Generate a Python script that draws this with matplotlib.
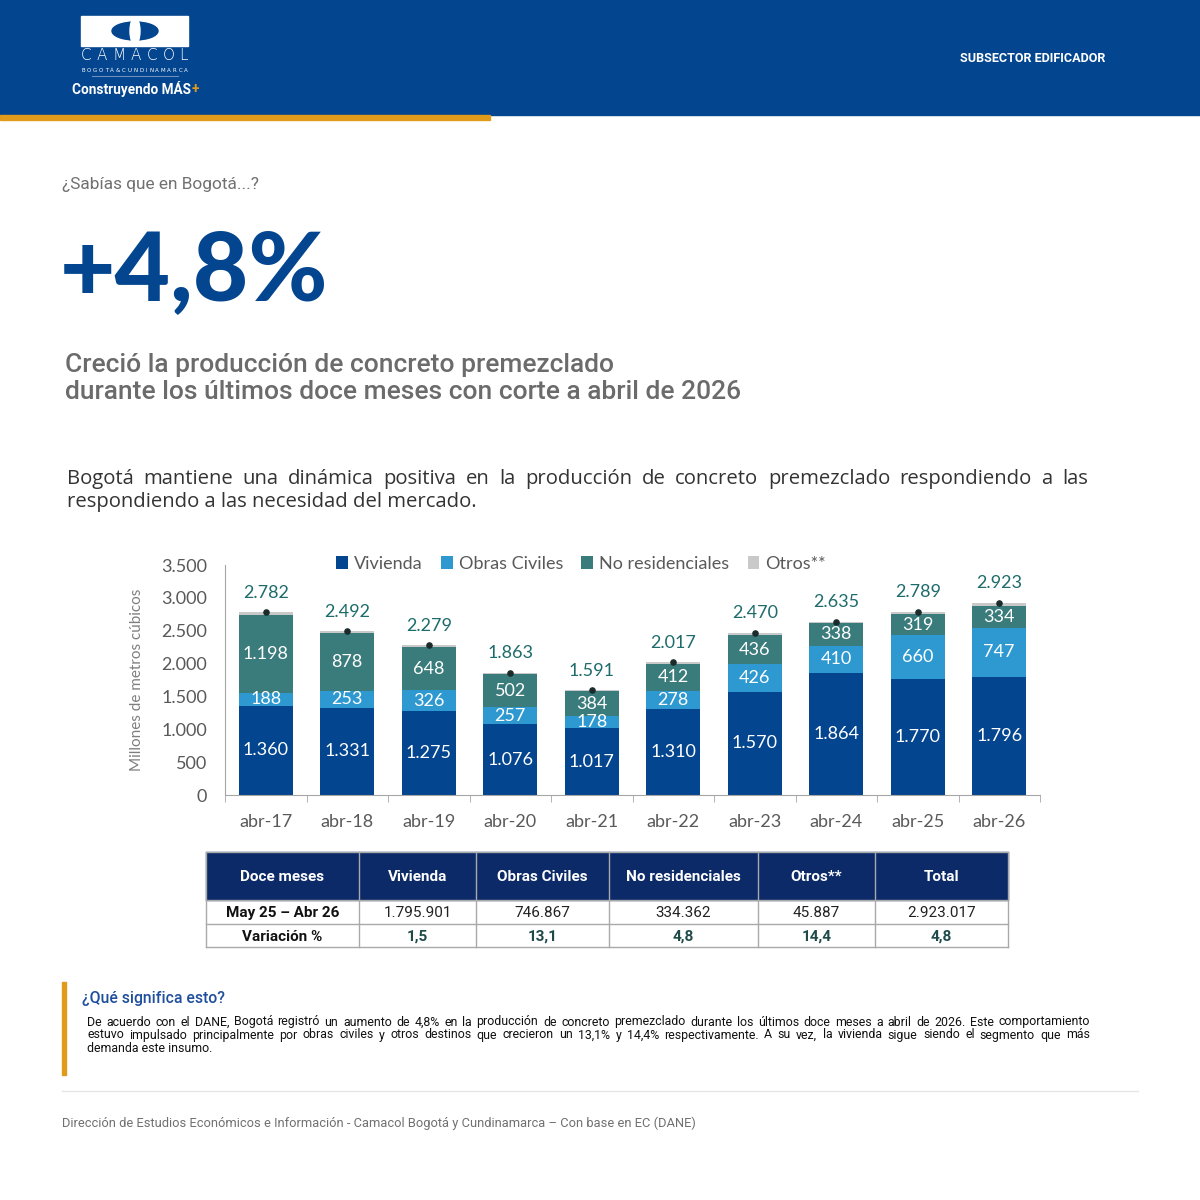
import matplotlib
matplotlib.use("Agg")
import matplotlib.pyplot as plt
import numpy as np
from matplotlib.patches import Rectangle, Ellipse

# Datos del gráfico (miles de m3)
periodos = ["abr-17", "abr-18", "abr-19", "abr-20", "abr-21",
            "abr-22", "abr-23", "abr-24", "abr-25", "abr-26"]
vivienda = [1360, 1331, 1275, 1076, 1017, 1310, 1570, 1864, 1770, 1796]
obras_civiles = [188, 253, 326, 257, 178, 278, 426, 410, 660, 747]
no_residenciales = [1198, 878, 648, 502, 384, 412, 436, 338, 319, 334]
otros = [36, 30, 30, 28, 12, 17, 38, 23, 40, 46]
totales = [2782, 2492, 2279, 1863, 1591, 2017, 2470, 2635, 2789, 2923]

# Tabla
tabla_cols = ["Doce meses", "Vivienda", "Obras Civiles", "No residenciales", "Otros**", "Total"]
tabla_valores = ["May 25 – Abr 26", "1.795.901", "746.867", "334.362", "45.887", "2.923.017"]
tabla_variacion = ["Variación %", "1,5", "13,1", "4,8", "14,4", "4,8"]

AZUL = "#03458F"
AZUL_CLARO = "#2E99D0"
VERDE = "#3A7B7B"
GRIS = "#C9C9C9"
TEAL = "#1E6B6B"
GRIS_TXT = "#595959"


def miles(v):
    return f"{v:,}".replace(",", ".")


fig = plt.figure(figsize=(12, 12), dpi=100)
bg = fig.add_axes([0, 0, 1, 1])
bg.set_xlim(0, 1200)
bg.set_ylim(1200, 0)
bg.axis("off")
r = fig.canvas.get_renderer()


def fit(x, y, s, ancho, size=12, **kw):
    t = bg.text(x, y, s, fontsize=size, **kw)
    w = t.get_window_extent(r).width
    t.set_fontsize(size * ancho / w)
    return t


def justificar(y, piezas, x0, x1, **kw):
    ts = [bg.text(0, y, p, **kw) for p in piezas]
    anchos = [t.get_window_extent(r).width for t in ts]
    hueco = (x1 - x0 - sum(anchos)) / (len(piezas) - 1)
    x = x0
    for t, w in zip(ts, anchos):
        t.set_x(x)
        x += w + hueco


# Encabezado
bg.add_patch(Rectangle((0, 0), 1200, 115, color=AZUL, zorder=0))
bg.add_patch(Rectangle((0, 115), 490, 5, color="#E09B1B", zorder=0))
bg.add_patch(Rectangle((81, 16), 107, 30, color="white", zorder=1))
bg.add_patch(Ellipse((135, 31), 46, 18, color=AZUL, zorder=2))
bg.add_patch(Ellipse((135, 31), 10, 27, color="white", zorder=3))
justificar(56, list("CAMACOL"), 81, 188, family="DejaVu Sans", color="white",
           va="center", fontsize=11, fontweight="light")
justificar(70, [c for c in "BOGOTÁ & CUNDINAMARCA" if c != " "], 81, 188,
           family="DejaVu Sans", color="white", va="center", fontsize=4)
bg.plot([92, 178], [76, 76], color="#6d8fc0", lw=0.8)
t = fit(72, 89, "Construyendo MÁS", 118, family="Roboto", color="white",
        va="center", fontweight="bold")
bg.text(72 + t.get_window_extent(r).width + 1, 89, "+", color="#E09B1B",
        fontsize=t.get_fontsize(), family="Roboto", fontweight="bold", va="center")
fit(960, 58, "SUBSECTOR EDIFICADOR", 146, family="Roboto", color="white",
    va="center", fontweight="bold")

# Titulares
fit(62, 184, "¿Sabías que en Bogotá...?", 197, family="Roboto", color="#707070",
    va="center")
fit(60, 273, "+4,8%", 268, family="Lato", fontweight="black", color=AZUL,
    va="center")
t1 = fit(65, 365, "durante los últimos doce meses con corte a abril de 2026", 673,
         family="Roboto", color="#6B6B6B", va="center", fontweight="medium")
bg.text(65, 365, "Creció la producción de concreto premezclado", family="Roboto",
        color="#6B6B6B", va="center", fontweight="medium", fontsize=t1.get_fontsize())
t1.set_y(392)

t2 = fit(67, 502, "respondiendo a las necesidad del mercado.", 408,
         family="Open Sans", color="#333333", va="center")
justificar(479, ("Bogotá mantiene una dinámica positiva en la producción de concreto "
                 "premezclado respondiendo a las").split(), 67, 1088,
           family="Open Sans", color="#333333", va="center", fontsize=t2.get_fontsize())

# Gráfico de barras apiladas
ax = fig.add_axes([225 / 1200, 1 - 795 / 1200, 815 / 1200, 230 / 1200])
x = np.arange(len(periodos))
ancho = 0.66
b1 = np.array(vivienda)
b2 = b1 + np.array(obras_civiles)
b3 = b2 + np.array(no_residenciales)
ax.bar(x, vivienda, ancho, color=AZUL, label="Vivienda")
ax.bar(x, obras_civiles, ancho, bottom=b1, color=AZUL_CLARO, label="Obras Civiles")
ax.bar(x, no_residenciales, ancho, bottom=b2, color=VERDE, label="No residenciales")
ax.bar(x, otros, ancho, bottom=b3, color=GRIS, label="Otros**")

for i in x:
    for base, val in [(0, vivienda[i]), (b1[i], obras_civiles[i]), (b2[i], no_residenciales[i])]:
        ax.text(i, base + val / 2, miles(val), ha="center", va="center",
                color="white", fontsize=13, family="Lato")
    ax.annotate(miles(totales[i]), (i, totales[i]), xytext=(0, 10.5),
                textcoords="offset points", ha="center", va="baseline",
                color=TEAL, fontsize=13, family="Lato")
ax.scatter(x, totales, s=14, color="#1b2b2b", zorder=5)

ax.set_xlim(-0.5, len(periodos) - 0.5)
ax.set_ylim(0, 3500)
ax.set_yticks(np.arange(0, 3501, 500))
ax.set_yticklabels([miles(v) for v in range(0, 3501, 500)])
ax.set_xticks(x)
ax.set_xticklabels(periodos)
ax.set_xticks(np.arange(-0.5, len(periodos), 1), minor=True)
ax.tick_params(axis="both", which="major", length=0, labelsize=13,
               labelcolor=GRIS_TXT)
ax.tick_params(axis="x", which="major", pad=14)
ax.tick_params(axis="y", which="major", pad=13)
ax.tick_params(axis="x", which="minor", length=5, color="#A6A6A6", direction="out")
for lab in ax.get_xticklabels() + ax.get_yticklabels():
    lab.set_family("Lato")
for s in ["top", "right"]:
    ax.spines[s].set_visible(False)
for s in ["left", "bottom"]:
    ax.spines[s].set_color("#A6A6A6")
ax.set_ylabel("Millones de metros cúbicos", fontsize=11, color="#7F7F7F",
              family="Lato", labelpad=12)
leg = ax.legend(loc="center", bbox_to_anchor=(0.437, 1.005), ncol=4, frameon=False,
                handlelength=0.65, handleheight=0.65, handletextpad=0.35,
                columnspacing=1.0, prop={"family": "Lato", "size": 13})
for txt in leg.get_texts():
    txt.set_color(GRIS_TXT)

# Tabla
cols_x = [206, 359, 476, 609, 758, 875, 1008]
filas_y = [852, 900, 924, 947]
bg.add_patch(Rectangle((206, 852), 802, 48, color="#0C2A68", zorder=1))
for xb in cols_x:
    bg.plot([xb, xb], [852, 947], color="#A9A9A9", lw=1, zorder=2)
for yb in filas_y:
    bg.plot([206, 1008], [yb, yb], color="#A9A9A9", lw=1, zorder=2)
for j in range(6):
    cx = (cols_x[j] + cols_x[j + 1]) / 2
    bg.text(cx, 877, tabla_cols[j], ha="center", va="center", color="white",
            fontsize=11, family="Roboto", fontweight="bold", zorder=3)
    bg.text(cx, 913, tabla_valores[j], ha="center", va="center",
            color="#111111" if j == 0 else "#222222", fontsize=11, family="Roboto",
            fontweight="bold" if j == 0 else "normal", zorder=3)
    bg.text(cx, 937, tabla_variacion[j], ha="center", va="center",
            color="#111111" if j == 0 else "#1F4A4A", fontsize=11, family="Roboto",
            fontweight="bold", zorder=3)

# Nota final
bg.add_patch(Rectangle((62, 982), 4, 93, color="#E09B1B"))
fit(82, 998, "¿Qué significa esto?", 142, family="Roboto", color="#1F4F9C",
    va="center", fontweight="medium")
t3 = fit(87, 1048, "demanda este insumo.", 125, family="Roboto", color="#111111",
         va="center")
justificar(1022, ("De acuerdo con el DANE, Bogotá registró un aumento de 4,8% en la producción "
                  "de concreto premezclado durante los últimos doce meses a abril de 2026. Este "
                  "comportamiento").split(), 87, 1090, family="Roboto", color="#111111",
           va="center", fontsize=t3.get_fontsize())
justificar(1035, ("estuvo impulsado principalmente por obras civiles  y otros destinos que "
                  "crecieron un 13,1% y 14,4% respectivamente. A su vez, la vivienda sigue "
                  "siendo el segmento que más").split(), 87, 1090, family="Roboto",
           color="#111111", va="center", fontsize=t3.get_fontsize())
bg.plot([62, 1138], [1091, 1091], color="#E6E6E6", lw=1)
fit(62, 1123, "Dirección de Estudios Económicos e Información - Camacol Bogotá y "
    "Cundinamarca – Con base en EC (DANE)", 632, family="Roboto", color="#707070",
    va="center")

fig.savefig("out.png", dpi=100)
